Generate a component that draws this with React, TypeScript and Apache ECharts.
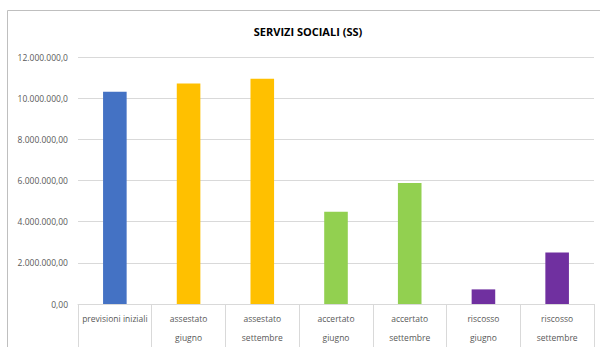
import React, { useEffect, useRef } from "react";
import * as echarts from "echarts";

const categories = [
  "previsioni iniziali",
  "assestato\ngiugno",
  "assestato\nsettembre",
  "accertato\ngiugno",
  "accertato\nsettembre",
  "riscosso\ngiugno",
  "riscosso\nsettembre",
];
const values = [10310000, 10710000, 10940000, 4480000, 5880000, 710000, 2500000];
const yTickValues = [0, 2000000, 4000000, 6000000, 8000000, 10000000, 12000000];
const yTickLabels = [
  "0,00",
  "2.000.000,00",
  "4.000.000,00",
  "6.000.000,00",
  "8.000.000,00",
  "10.000.000,0",
  "12.000.000,0",
];
const barColors = ["#4472C4", "#FFC000", "#FFC000", "#92D050", "#92D050", "#7030A0", "#7030A0"];
const title = "SERVIZI SOCIALI (SS)";

export default function App() {
  const ref = useRef<HTMLDivElement>(null);
  useEffect(() => {
    if (!ref.current) return;
    const chart = echarts.init(ref.current, null, { renderer: "svg" });
    const font = "'Open Sans', 'Noto Sans', sans-serif";
    chart.setOption({
      animation: false,
      backgroundColor: "#ffffff",
      title: {
        text: title,
        left: 303,
        textAlign: "center",
        top: 21,
        textStyle: { fontSize: 11, fontWeight: "bold", color: "#000000", fontFamily: font },
      },
      graphic: [
        {
          type: "rect",
          shape: { x: 7.5, y: 10.5, width: 700, height: 400 },
          style: { fill: "none", stroke: "#bfbfbf", lineWidth: 1 },
          silent: true,
        },
      ],
      grid: { left: 78, right: 6, top: 57, bottom: 41 },
      xAxis: {
        type: "category",
        data: categories,
        axisLine: { show: true, lineStyle: { color: "#d9d9d9", width: 1 } },
        axisTick: { show: true, length: 45, interval: 0, lineStyle: { color: "#d9d9d9" } },
        axisLabel: {
          interval: 0,
          margin: 5,
          fontSize: 8.5,
          lineHeight: 19,
          color: "#595959",
          fontFamily: font,
        },
      },
      yAxis: {
        type: "value",
        min: 0,
        max: 12000000,
        interval: 2000000,
        axisLine: { show: false },
        axisTick: { show: false },
        splitLine: { lineStyle: { color: "#d9d9d9", width: 1 } },
        axisLabel: {
          margin: 10,
          fontSize: 8.5,
          color: "#595959",
          fontFamily: font,
          formatter: (v: number) => {
            const i = yTickValues.indexOf(v);
            return i >= 0 ? yTickLabels[i] : "";
          },
        },
      },
      series: [
        {
          type: "bar",
          barWidth: "32%",
          data: values.map((v, i) => ({ value: v, itemStyle: { color: barColors[i] } })),
        },
      ],
    });
    return () => chart.dispose();
  }, []);
  return <div ref={ref} style={{ width: 600, height: 347, position: "absolute", left: 0, top: 0 }} />;
}
